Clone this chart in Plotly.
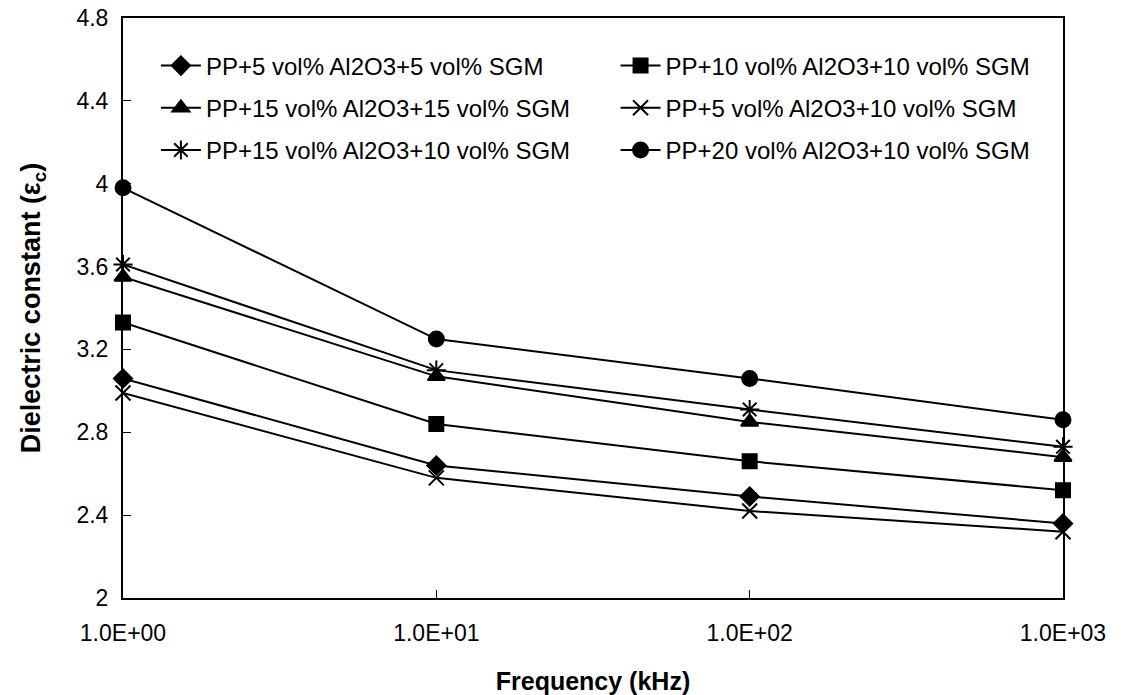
import plotly.graph_objects as go

# Frequency points (kHz)
frequency = [1, 10, 100, 1000]

# Series names and dielectric constant values
names = [
    "PP+5 vol% Al2O3+5 vol% SGM",
    "PP+10 vol% Al2O3+10 vol% SGM",
    "PP+15 vol% Al2O3+15 vol% SGM",
    "PP+5 vol% Al2O3+10 vol% SGM",
    "PP+15 vol% Al2O3+10 vol% SGM",
    "PP+20 vol% Al2O3+10 vol% SGM",
]
al5_sgm5 = [3.06, 2.64, 2.49, 2.36]
al10_sgm10 = [3.33, 2.84, 2.66, 2.52]
al15_sgm15 = [3.55, 3.07, 2.85, 2.68]
al5_sgm10 = [2.99, 2.58, 2.42, 2.32]
al15_sgm10 = [3.61, 3.10, 2.91, 2.73]
al20_sgm10 = [3.98, 3.25, 3.06, 2.86]

x_tick_vals = [1, 10, 100, 1000]
x_tick_text = ["1.0E+00", "1.0E+01", "1.0E+02", "1.0E+03"]
y_tick_vals = [2, 2.4, 2.8, 3.2, 3.6, 4, 4.4, 4.8]

series = [al5_sgm5, al10_sgm10, al15_sgm15, al5_sgm10, al15_sgm10, al20_sgm10]
symbols = ["diamond", "square", "triangle-up", "x-thin-open", "asterisk-open", "circle"]
sizes = [14, 14, 15, 15, 16, 15]
legend_ref = ["legend", "legend2", "legend", "legend2", "legend", "legend2"]

FONT = "Arial, Liberation Sans, sans-serif"

fig = go.Figure()
for i, (name, vals) in enumerate(zip(names, series)):
    fig.add_trace(go.Scatter(
        x=frequency, y=vals, name=name, mode="lines+markers",
        line=dict(color="black", width=2),
        marker=dict(symbol=symbols[i], size=sizes[i], color="black",
                    line=dict(color="black", width=2)),
        legend=legend_ref[i], legendgroup=f"g{i}",
        cliponaxis=False,
    ))

legend_style = dict(
    font=dict(family=FONT, size=24, color="black"),
    bgcolor="rgba(0,0,0,0)", borderwidth=0,
    yanchor="top", xanchor="left", y=0.956,
    tracegroupgap=8, itemwidth=40,
)

fig.update_layout(
    width=1121, height=695,
    margin=dict(l=123, r=58, t=18, b=97),
    paper_bgcolor="white", plot_bgcolor="white",
    font=dict(family=FONT, size=23, color="black"),
    showlegend=True,
    legend=dict(x=0.035, **legend_style),
    legend2=dict(x=0.524, **legend_style),
    xaxis=dict(
        type="log", range=[0, 3], automargin=False,
        tickvals=x_tick_vals, ticktext=x_tick_text,
        ticks="inside", ticklen=8, tickwidth=1, tickcolor="black",
        ticklabelstandoff=13,
        showline=True, linecolor="black", linewidth=2, mirror=True,
        showgrid=False, zeroline=False,
        tickfont=dict(size=23),
        title=dict(text="<b>Frequency (kHz)</b>", font=dict(size=25), standoff=30),
    ),
    yaxis=dict(
        range=[2, 4.8], tickvals=y_tick_vals, automargin=False,
        ticks="inside", ticklen=8, tickwidth=1, tickcolor="black",
        ticklabelstandoff=8,
        showline=True, linecolor="black", linewidth=2, mirror=True,
        showgrid=False, zeroline=False,
        tickfont=dict(size=23),
        title=dict(text="<b>Dielectric constant (ε<sub>c</sub>)</b>",
                   font=dict(size=27), standoff=28),
    ),
)

fig.write_html("out.html")
